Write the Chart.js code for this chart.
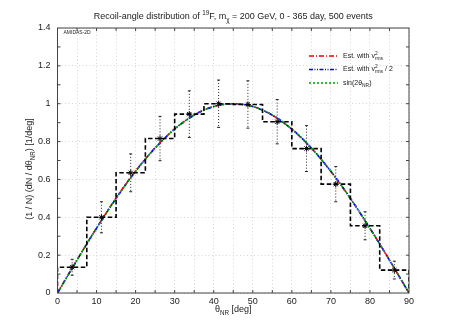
<!DOCTYPE html>
<html>
<head>
<meta charset="utf-8">
<script src="https://cdn.jsdelivr.net/npm/chart.js@4"></script>
<style>
  html, body { margin: 0; padding: 0; background: #fff; }
  #wrap { width: 458px; height: 321px; }
</style>
</head>
<body>
<div id="wrap"><canvas id="chart" width="458" height="321"></canvas></div>
<script>
// theta grid (deg) and the three curves
const thetaDeg = [0, 5, 10, 15, 20, 25, 30, 35, 40, 45, 50, 55, 60, 65, 70, 75, 80, 85, 90];
const estRms = [0, 0.175, 0.344, 0.502, 0.645, 0.767, 0.867, 0.940, 0.985, 1.000, 0.985, 0.939, 0.865, 0.765, 0.642, 0.499, 0.341, 0.174, 0];
const estRmsHalf = [0, 0.174, 0.342, 0.500, 0.643, 0.766, 0.866, 0.940, 0.985, 1.000, 0.985, 0.940, 0.866, 0.766, 0.643, 0.500, 0.342, 0.174, 0];
const sinTheory = [0, 0.174, 0.342, 0.500, 0.643, 0.766, 0.866, 0.940, 0.985, 1.000, 0.985, 0.940, 0.866, 0.766, 0.643, 0.500, 0.342, 0.174, 0];

// histogram of the 500 events
const binEdges = [0, 7.5, 15, 22.5, 30, 37.5, 45, 52.5, 60, 67.5, 75, 82.5, 90];
const binValues = [0.136, 0.400, 0.635, 0.816, 0.945, 1.000, 0.996, 0.905, 0.763, 0.575, 0.355, 0.121];
const binErrors = [0.042, 0.082, 0.100, 0.117, 0.123, 0.125, 0.125, 0.117, 0.121, 0.093, 0.074, 0.047];

const FONT = "'Liberation Sans', Arial, sans-serif";

const binCenters = binValues.map((v, i) => (binEdges[i] + binEdges[i + 1]) / 2);

const histPoints = [{ x: binEdges[0], y: 0 }];
binValues.forEach((v, i) => {
  histPoints.push({ x: binEdges[i], y: v }, { x: binEdges[i + 1], y: v });
});
histPoints.push({ x: binEdges[binEdges.length - 1], y: 0 });

const curve = (vals) => thetaDeg.map((t, i) => ({ x: t, y: vals[i] }));

// text with sub/superscripts
function drawRich(c, segs, x, y, size, align) {
  const small = size * 0.7;
  const widths = segs.map(s => {
    if (s.t !== undefined) { c.font = size + 'px ' + FONT; return c.measureText(s.t).width; }
    c.font = small + 'px ' + FONT;
    return Math.max(s.sup ? c.measureText(s.sup).width : 0, s.sub ? c.measureText(s.sub).width : 0);
  });
  const total = widths.reduce((a, b) => a + b, 0);
  let cx = align === 'center' ? x - total / 2 : x;
  c.textBaseline = 'middle';
  c.textAlign = 'left';
  segs.forEach((s, i) => {
    if (s.t !== undefined) {
      c.font = size + 'px ' + FONT;
      c.fillText(s.t, cx, y);
    } else {
      c.font = small + 'px ' + FONT;
      if (s.sup) c.fillText(s.sup, cx, y - size * 0.38);
      if (s.sub) c.fillText(s.sub, cx, y + size * 0.34);
    }
    cx += widths[i];
  });
}

const legendItems = [
  { color: '#ff0000', dash: [5, 2, 1, 2], segs: [{ t: 'Est. with v' }, { sup: '2', sub: 'rms' }] },
  { color: '#0000ff', dash: [4, 1.5, 1, 1.5, 1, 1.5], segs: [{ t: 'Est. with v' }, { sup: '2', sub: 'rms' }, { t: ' / 2' }] },
  { color: '#00a000', dash: [2, 2], segs: [{ t: 'sin(2θ' }, { sub: 'NR' }, { t: ')' }] }
];

const decor = {
  id: 'decor',
  beforeDraw(chart) {
    const c = chart.ctx;
    c.save();
    c.fillStyle = '#fff';
    c.fillRect(0, 0, chart.width, chart.height);
    c.restore();
  },
  afterDatasetsDraw(chart) {
    const c = chart.ctx;
    const xs = chart.scales.x, ys = chart.scales.y;
    // error bars
    c.save();
    c.strokeStyle = '#222';
    c.lineWidth = 1;
    binCenters.forEach((t, i) => {
      const px = xs.getPixelForValue(t);
      const y1 = ys.getPixelForValue(binValues[i] + binErrors[i]);
      const y2 = ys.getPixelForValue(binValues[i] - binErrors[i]);
      c.setLineDash([1, 2]);
      c.beginPath(); c.moveTo(px, y1); c.lineTo(px, y2); c.stroke();
      c.setLineDash([]);
      c.beginPath();
      c.moveTo(px - 1.5, y1); c.lineTo(px + 1.5, y1);
      c.moveTo(px - 1.5, y2); c.lineTo(px + 1.5, y2);
      c.stroke();
    });
    c.restore();
  },
  afterDraw(chart) {
    const c = chart.ctx;
    const a = chart.chartArea;
    const xs = chart.scales.x, ys = chart.scales.y;
    c.save();
    // frame with inner ticks
    c.strokeStyle = '#444';
    c.lineWidth = 1;
    c.strokeRect(a.left, a.top, a.right - a.left, a.bottom - a.top);
    c.beginPath();
    for (let t = 5; t < 90; t += 5) {
      const px = xs.getPixelForValue(t);
      c.moveTo(px, a.bottom); c.lineTo(px, a.bottom - 3);
      c.moveTo(px, a.top); c.lineTo(px, a.top + 3);
    }
    for (let k = 1; k < 14; k++) {
      const py = ys.getPixelForValue(k / 10);
      c.moveTo(a.left, py); c.lineTo(a.left + 3, py);
      c.moveTo(a.right, py); c.lineTo(a.right - 3, py);
    }
    c.stroke();

    c.fillStyle = '#222';
    // title
    drawRich(c, [{ t: 'Recoil-angle distribution of ' }, { sup: '19' }, { t: 'F, m' }, { sub: 'χ' },
      { t: ' = 200 GeV, 0 - 365 day, 500 events' }], (a.left + a.right) / 2, 17, 9, 'center');
    // x axis title
    drawRich(c, [{ t: 'θ' }, { sub: 'NR' }, { t: ' [deg]' }], (a.left + a.right) / 2, 310, 9, 'center');
    // y axis title
    c.save();
    c.translate(30, 169);
    c.rotate(-Math.PI / 2);
    drawRich(c, [{ t: '(1 / N) (dN / dθ' }, { sub: 'NR' }, { t: ') [1/deg]' }], 0, 0, 9, 'center');
    c.restore();
    // tag
    c.font = '5px ' + FONT;
    c.textAlign = 'left';
    c.textBaseline = 'middle';
    c.fillText('AMIDAS-2D', a.left + 6, a.top + 5);
    // legend
    legendItems.forEach((it, i) => {
      const ly = 56 + i * 13.5;
      c.strokeStyle = it.color;
      c.lineWidth = 1.6;
      c.setLineDash(it.dash);
      c.beginPath(); c.moveTo(309, ly); c.lineTo(338, ly); c.stroke();
      c.setLineDash([]);
      c.fillStyle = '#222';
      drawRich(c, it.segs, 343, ly, 7, 'left');
    });
    c.restore();
  }
};

new Chart(document.getElementById('chart'), {
  type: 'line',
  data: {
    datasets: [
      { label: 'hist', data: histPoints, borderColor: '#000', borderWidth: 1.6, borderDash: [4.5, 2.5],
        pointRadius: 0, tension: 0, order: 1 },
      { label: 'points', data: binCenters.map((t, i) => ({ x: t, y: binValues[i] })), showLine: false,
        pointStyle: 'star', pointRadius: 3, borderColor: '#000', backgroundColor: '#000', pointBorderWidth: 1, order: 0 },
      { label: 'Est. with vrms^2', data: curve(estRms), borderColor: '#ff0000', borderWidth: 1.6,
        borderDash: [5, 2, 1, 2], pointRadius: 0, cubicInterpolationMode: 'monotone', order: 4 },
      { label: 'Est. with vrms^2 / 2', data: curve(estRmsHalf), borderColor: '#0000ff', borderWidth: 1.6,
        borderDash: [4, 1.5, 1, 1.5, 1, 1.5], pointRadius: 0, cubicInterpolationMode: 'monotone', order: 3 },
      { label: 'sin(2theta)', data: curve(sinTheory), borderColor: '#00a000', borderWidth: 1.6,
        borderDash: [2, 2], pointRadius: 0, cubicInterpolationMode: 'monotone', order: 2 }
    ]
  },
  options: {
    responsive: false,
    animation: false,
    devicePixelRatio: 1,
    layout: { padding: { top: 28, right: 49, bottom: 0, left: 0 } },
    plugins: { legend: { display: false }, title: { display: false }, tooltip: { enabled: false } },
    scales: {
      x: {
        type: 'linear', min: 0, max: 90,
        afterFit: s => { s.height = 28; },
        grid: { color: '#d6d6d6', lineWidth: 1, drawTicks: false },
        border: { display: false, dash: [1, 2.5] },
        ticks: {
          stepSize: 5, autoSkip: false, maxRotation: 0, padding: 3, color: '#222',
          font: { family: FONT, size: 9 },
          callback: v => (v % 10 === 0 ? String(v) : '')
        }
      },
      y: {
        type: 'linear', min: 0, max: 1.4,
        afterFit: s => { s.width = 57.5; },
        grid: { color: '#d6d6d6', lineWidth: 1, drawTicks: false },
        border: { display: false, dash: [1, 2.5] },
        ticks: {
          stepSize: 0.2, padding: 7, color: '#222',
          font: { family: FONT, size: 9 },
          callback: v => String(Math.round(v * 10) / 10)
        }
      }
    }
  },
  plugins: [decor]
});
</script>
</body>
</html>
